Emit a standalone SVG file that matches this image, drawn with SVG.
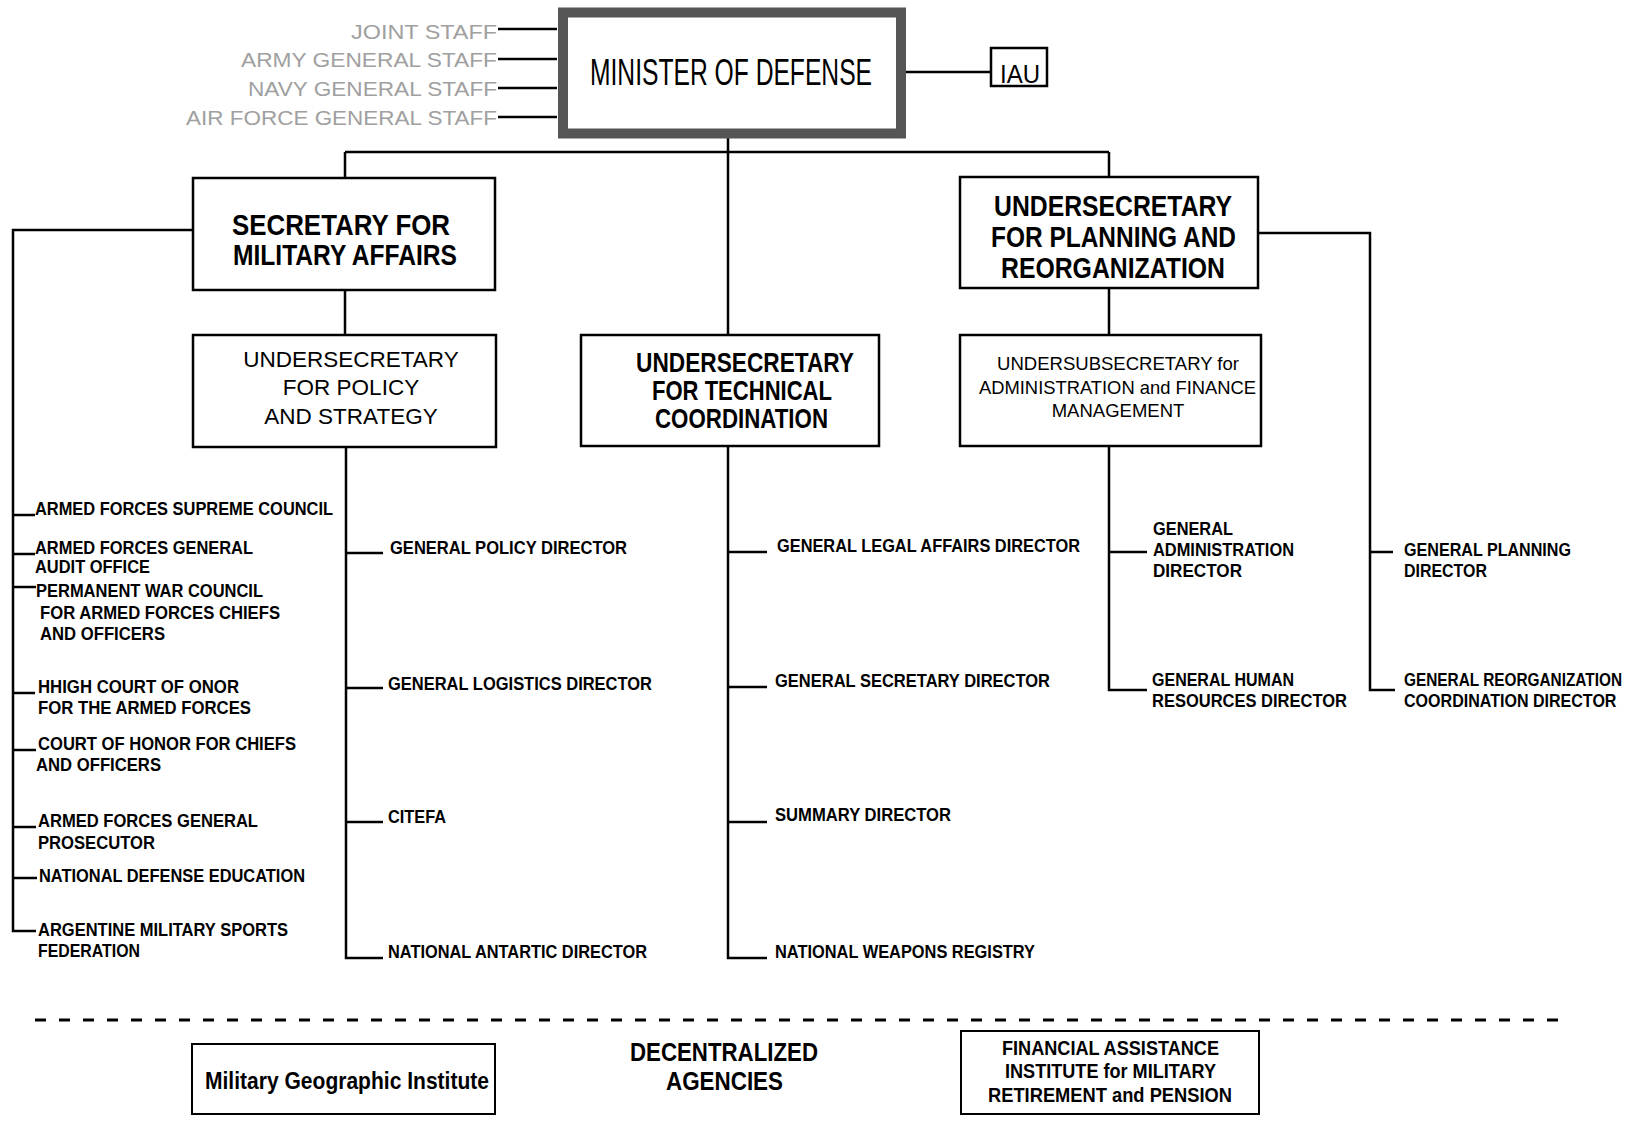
<svg xmlns="http://www.w3.org/2000/svg" width="1645" height="1125" viewBox="0 0 1645 1125">
<style>
text{font-family:"Liberation Sans",Arial,Helvetica,sans-serif;fill:#000}
.b{font-weight:bold;font-size:19px}
.r{font-size:22.5px}
.staff{font-size:20px;fill:#a0a0a0}
.box{fill:#fff;stroke:#000;stroke-width:2.5}
.thin{fill:#fff;stroke:#000;stroke-width:2}
.c{fill:none;stroke:#000;stroke-width:2.5}
</style>
<rect width="1645" height="1125" fill="#fff"/>
<g id="connectors" class="c">
  <path d="M498 29H557M498 59H557M498 88H557M498 117H557"/>
  <path d="M906 72H991"/>
  <path d="M728 137V335M345 152H1109M345 152V178M1109 152V177"/>
  <path d="M345 290V335M346 447V958H383M346 553H383M346 688H383M346 822H383"/>
  <path d="M193 230H13V931H36M13 515H35M13 554H35M13 587H36M13 693H35M13 750H36M13 827H36M13 878H37"/>
  <path d="M728 446V958H767M728 552H767M728 687H767M728 822H767"/>
  <path d="M1109 288V335M1109 447V690H1147M1109 552H1147"/>
  <path d="M1258 233H1370V690H1395M1370 552H1393"/>
  <path d="M35 1020H1571" stroke-width="3" stroke-dasharray="11 13"/>
</g>
<g id="minister">
  <rect x="563" y="12.5" width="338" height="121" fill="#fff" stroke="#555" stroke-width="10"/>
  <text x="590" y="85" font-size="36" textLength="282" lengthAdjust="spacingAndGlyphs">MINISTER OF DEFENSE</text>
</g>
<g id="iau">
  <rect class="box" x="991" y="48" width="56" height="38"/>
  <text x="1000" y="83" font-size="26" textLength="40" lengthAdjust="spacingAndGlyphs">IAU</text>
</g>
<g id="staff">
  <text class="staff" x="351" y="39" textLength="146" lengthAdjust="spacingAndGlyphs">JOINT STAFF</text>
  <text class="staff" x="241" y="67" textLength="256" lengthAdjust="spacingAndGlyphs">ARMY GENERAL STAFF</text>
  <text class="staff" x="248" y="96" textLength="249" lengthAdjust="spacingAndGlyphs">NAVY GENERAL STAFF</text>
  <text class="staff" x="186" y="125" textLength="311" lengthAdjust="spacingAndGlyphs">AIR FORCE GENERAL STAFF</text>
</g>
<g id="secretary">
  <rect class="box" x="193" y="178" width="302" height="112"/>
  <text x="232" y="235" font-size="30" font-weight="bold" textLength="218" lengthAdjust="spacingAndGlyphs">SECRETARY FOR</text>
  <text x="233" y="265" font-size="30" font-weight="bold" textLength="224" lengthAdjust="spacingAndGlyphs">MILITARY AFFAIRS</text>
</g>
<g id="policy">
  <rect class="box" x="193" y="335" width="303" height="112"/>
  <text class="r" x="351" y="367" text-anchor="middle">UNDERSECRETARY</text>
  <text class="r" x="351" y="395" text-anchor="middle">FOR POLICY</text>
  <text class="r" x="351" y="424" text-anchor="middle">AND STRATEGY</text>
</g>
<g id="technical">
  <rect class="box" x="581" y="335" width="298" height="111"/>
  <text x="636" y="372" font-size="28" font-weight="bold" textLength="218" lengthAdjust="spacingAndGlyphs">UNDERSECRETARY</text>
  <text x="652" y="400" font-size="28" font-weight="bold" textLength="180" lengthAdjust="spacingAndGlyphs">FOR TECHNICAL</text>
  <text x="655" y="428" font-size="28" font-weight="bold" textLength="173" lengthAdjust="spacingAndGlyphs">COORDINATION</text>
</g>
<g id="planning">
  <rect class="box" x="960" y="177" width="298" height="111"/>
  <text x="994" y="216" font-size="29" font-weight="bold" textLength="238" lengthAdjust="spacingAndGlyphs">UNDERSECRETARY</text>
  <text x="991" y="247" font-size="29" font-weight="bold" textLength="245" lengthAdjust="spacingAndGlyphs">FOR PLANNING AND</text>
  <text x="1001" y="278" font-size="29" font-weight="bold" textLength="224" lengthAdjust="spacingAndGlyphs">REORGANIZATION</text>
</g>
<g id="admin-finance">
  <rect class="box" x="960" y="335" width="301" height="111"/>
  <text x="997" y="370" font-size="18.5" textLength="242" lengthAdjust="spacingAndGlyphs">UNDERSUBSECRETARY for</text>
  <text x="979" y="394" font-size="18.5" textLength="277" lengthAdjust="spacingAndGlyphs">ADMINISTRATION and FINANCE</text>
  <text x="1118" y="417" font-size="18.5" text-anchor="middle">MANAGEMENT</text>
</g>
<g id="military-affairs-units">
  <text class="b" x="35" y="515" textLength="298" lengthAdjust="spacingAndGlyphs">ARMED FORCES SUPREME COUNCIL</text>
  <text class="b" x="35" y="554" textLength="218" lengthAdjust="spacingAndGlyphs">ARMED FORCES GENERAL</text>
  <text class="b" x="35" y="573" textLength="115" lengthAdjust="spacingAndGlyphs">AUDIT OFFICE</text>
  <text class="b" x="36" y="597" textLength="227" lengthAdjust="spacingAndGlyphs">PERMANENT WAR COUNCIL</text>
  <text class="b" x="40" y="619" textLength="240" lengthAdjust="spacingAndGlyphs">FOR ARMED FORCES CHIEFS</text>
  <text class="b" x="40" y="640" textLength="125" lengthAdjust="spacingAndGlyphs">AND OFFICERS</text>
  <text class="b" x="38" y="693" textLength="201" lengthAdjust="spacingAndGlyphs">HHIGH COURT OF ONOR</text>
  <text class="b" x="38" y="714" textLength="213" lengthAdjust="spacingAndGlyphs">FOR THE ARMED FORCES</text>
  <text class="b" x="38" y="750" textLength="258" lengthAdjust="spacingAndGlyphs">COURT OF HONOR FOR CHIEFS</text>
  <text class="b" x="36" y="771" textLength="125" lengthAdjust="spacingAndGlyphs">AND OFFICERS</text>
  <text class="b" x="38" y="827" textLength="220" lengthAdjust="spacingAndGlyphs">ARMED FORCES GENERAL</text>
  <text class="b" x="38" y="849" textLength="117" lengthAdjust="spacingAndGlyphs">PROSECUTOR</text>
  <text class="b" x="39" y="882" textLength="266" lengthAdjust="spacingAndGlyphs">NATIONAL DEFENSE EDUCATION</text>
  <text class="b" x="38" y="936" textLength="250" lengthAdjust="spacingAndGlyphs">ARGENTINE MILITARY SPORTS</text>
  <text class="b" x="38" y="957" textLength="102" lengthAdjust="spacingAndGlyphs">FEDERATION</text>
</g>
<g id="policy-units">
  <text class="b" x="390" y="554" textLength="237" lengthAdjust="spacingAndGlyphs">GENERAL POLICY DIRECTOR</text>
  <text class="b" x="388" y="690" textLength="264" lengthAdjust="spacingAndGlyphs">GENERAL LOGISTICS DIRECTOR</text>
  <text class="b" x="388" y="823" textLength="58" lengthAdjust="spacingAndGlyphs">CITEFA</text>
  <text class="b" x="388" y="958" textLength="259" lengthAdjust="spacingAndGlyphs">NATIONAL ANTARTIC DIRECTOR</text>
</g>
<g id="technical-units">
  <text class="b" x="777" y="552" textLength="303" lengthAdjust="spacingAndGlyphs">GENERAL LEGAL AFFAIRS DIRECTOR</text>
  <text class="b" x="775" y="687" textLength="275" lengthAdjust="spacingAndGlyphs">GENERAL SECRETARY DIRECTOR</text>
  <text class="b" x="775" y="821" textLength="176" lengthAdjust="spacingAndGlyphs">SUMMARY DIRECTOR</text>
  <text class="b" x="775" y="958" textLength="260" lengthAdjust="spacingAndGlyphs">NATIONAL WEAPONS REGISTRY</text>
</g>
<g id="admin-units">
  <text class="b" x="1153" y="535" textLength="80" lengthAdjust="spacingAndGlyphs">GENERAL</text>
  <text class="b" x="1153" y="556" textLength="141" lengthAdjust="spacingAndGlyphs">ADMINISTRATION</text>
  <text class="b" x="1153" y="577" textLength="89" lengthAdjust="spacingAndGlyphs">DIRECTOR</text>
  <text class="b" x="1152" y="686" textLength="142" lengthAdjust="spacingAndGlyphs">GENERAL HUMAN</text>
  <text class="b" x="1152" y="707" textLength="195" lengthAdjust="spacingAndGlyphs">RESOURCES DIRECTOR</text>
</g>
<g id="planning-units">
  <text class="b" x="1404" y="556" textLength="167" lengthAdjust="spacingAndGlyphs">GENERAL PLANNING</text>
  <text class="b" x="1404" y="577" textLength="83" lengthAdjust="spacingAndGlyphs">DIRECTOR</text>
  <text class="b" transform="translate(1404 686) scale(0.81 1)">GENERAL REORGANIZATION</text>
  <text class="b" transform="translate(1404 707) scale(0.845 1)">COORDINATION DIRECTOR</text>
</g>
<g id="mgi">
  <rect class="thin" x="192" y="1044" width="303" height="70"/>
  <text x="205" y="1089" font-size="24" font-weight="bold" textLength="284" lengthAdjust="spacingAndGlyphs">Military Geographic Institute</text>
</g>
<g id="decentralized">
  <text x="630" y="1061" font-size="26" font-weight="bold" textLength="188" lengthAdjust="spacingAndGlyphs">DECENTRALIZED</text>
  <text x="666" y="1090" font-size="26" font-weight="bold" textLength="117" lengthAdjust="spacingAndGlyphs">AGENCIES</text>
</g>
<g id="financial">
  <rect class="thin" x="961" y="1031" width="298" height="83"/>
  <text x="1002" y="1055" font-size="21" font-weight="bold" textLength="217" lengthAdjust="spacingAndGlyphs">FINANCIAL ASSISTANCE</text>
  <text x="1005" y="1078" font-size="21" font-weight="bold" textLength="211" lengthAdjust="spacingAndGlyphs">INSTITUTE for MILITARY</text>
  <text x="988" y="1102" font-size="21" font-weight="bold" textLength="244" lengthAdjust="spacingAndGlyphs">RETIREMENT and PENSION</text>
</g>
</svg>
